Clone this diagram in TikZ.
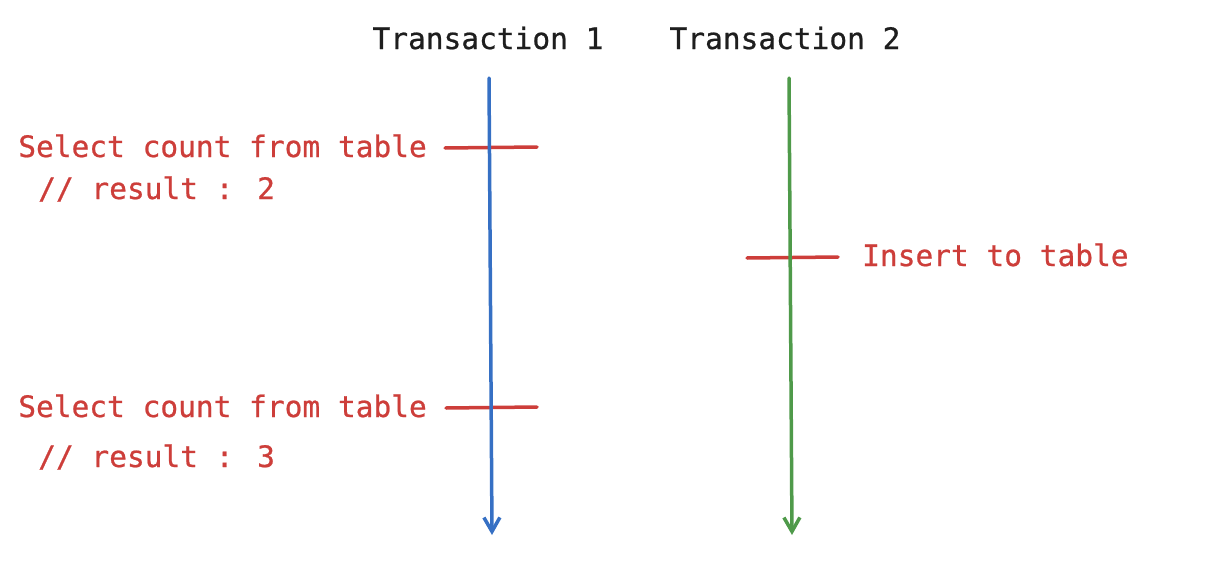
\documentclass[tikz,border=0pt]{standalone}
\usepackage{fontspec}
\newfontfamily\diagfont{DejaVu Sans Mono}[FakeBold=0.7]
\usetikzlibrary{arrows.meta}

\definecolor{txblue}{HTML}{3670C4}
\definecolor{txgreen}{HTML}{4F9A4A}
\definecolor{txred}{HTML}{CD3E3A}
\definecolor{txink}{HTML}{1E1E1E}

\begin{document}
\begin{tikzpicture}[x=1pt, y=-1pt, >={Straight Barb[length=14pt, width=16pt]},
  label/.style={inner sep=0pt, font=\diagfont\fontsize{29.5}{34}\selectfont},
  title/.style={label, text=txink},
  note/.style={label, text=txred},
  tick/.style={draw=txred, line width=3.5pt, line cap=round},
  timeline/.style={->, line width=3.5pt, line cap=round}]
\useasboundingbox (0,0) rectangle (1224,570);

\node[title, anchor=base] (t1) at (488,49) {Transaction 1};
\node[title, anchor=base] (t2) at (785,49) {Transaction 2};

\coordinate (t1top) at (489,78);
\coordinate (t1end) at (492,535);
\coordinate (t2top) at (789,78);
\coordinate (t2end) at (792,535);

\node[note, anchor=base east] (sel1) at (427,157) {Select count from table};
\node[note, anchor=base west] (res1) at (38,199) {// result : 2};
\node[note, anchor=base east] (sel2) at (427,417) {Select count from table};
\node[note, anchor=base west] (res2) at (38,467) {// result : 3};
\node[note, anchor=base west] (ins) at (862,266) {Insert to table};

\coordinate (s1a) at (445,148);
\coordinate (s1b) at (537,147);
\coordinate (s2a) at (446,408);
\coordinate (s2b) at (537,407);
\coordinate (ia) at (747,258);
\coordinate (ib) at (838,257);

\draw[tick] (s1a) -- (s1b);
\draw[tick] (s2a) -- (s2b);
\draw[tick] (ia) -- (ib);

\draw[timeline, txblue] (t1top) -- (t1end);
\draw[timeline, txgreen] (t2top) -- (t2end);
\end{tikzpicture}
\end{document}
